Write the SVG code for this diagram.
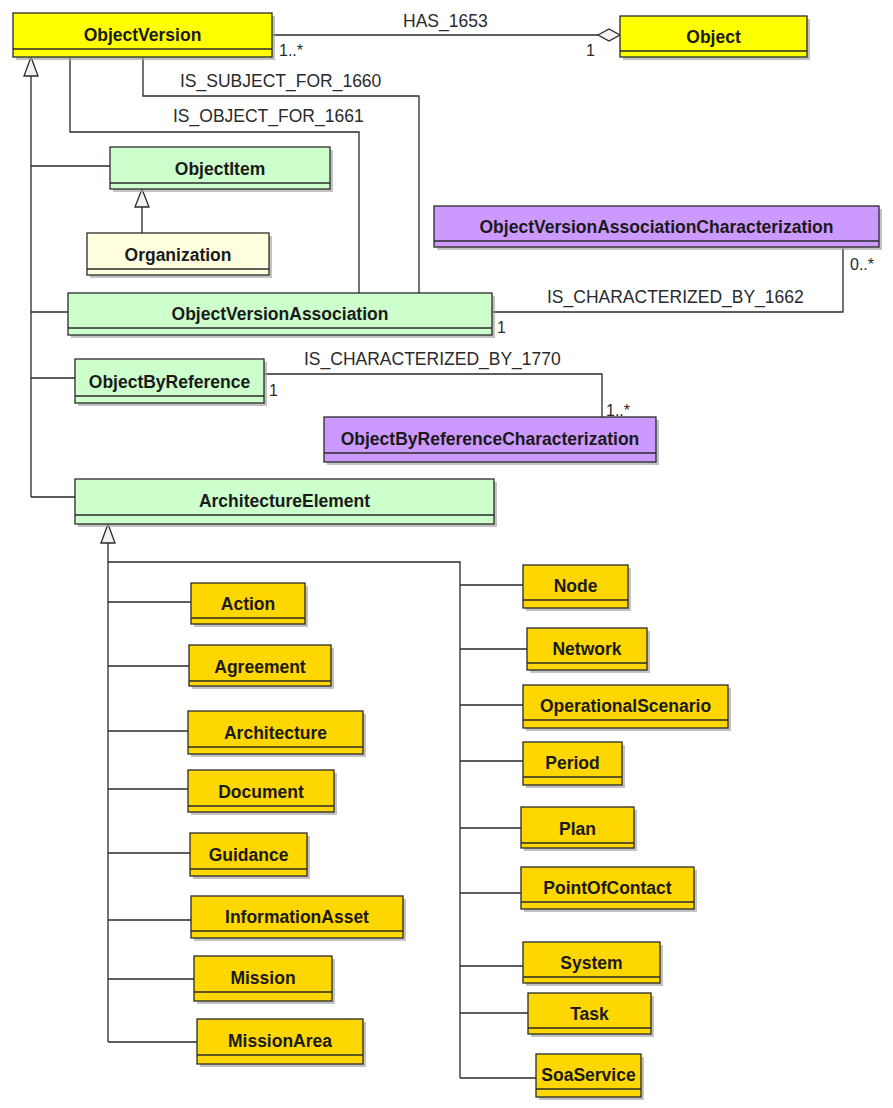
<svg xmlns="http://www.w3.org/2000/svg" width="893" height="1108" viewBox="0 0 893 1108">
<style>
.sh{fill:#a8a8a8;opacity:.7}
.bx{stroke:#2a2a2a;stroke-width:1.3}
.sep{stroke:#2a2a2a;stroke-width:1.3}
.y{fill:#ffff00}
.g{fill:#ffd700}
.gr{fill:#ccffcc}
.cr{fill:#ffffe0}
.pu{fill:#cc99ff}
.nm{font-family:"Liberation Sans",Arial,sans-serif;font-weight:bold;font-size:17.5px;fill:#1a1a1a;text-anchor:middle}
.lb{font-family:"Liberation Sans",Arial,sans-serif;font-size:17.5px;fill:#2a2a2a}
.mu{font-family:"Liberation Sans",Arial,sans-serif;font-size:16px;fill:#2a2a2a}
.ln{fill:none;stroke:#2a2a2a;stroke-width:1.3}
.tri{fill:#f4f2ec;stroke:#2a2a2a;stroke-width:1.3}
</style>
<rect width="893" height="1108" fill="#ffffff"/>
<g id="connectors">
<!-- HAS_1653 -->
<path class="ln" d="M272,35 H598"/>
<path class="tri" d="M598,35 L609,29 L620,35 L609,41 Z"/>
<!-- IS_SUBJECT_FOR_1660 -->
<path class="ln" d="M143,57 V96 H419 V293"/>
<!-- IS_OBJECT_FOR_1661 -->
<path class="ln" d="M70,57 V132 H359 V293"/>
<!-- IS_CHARACTERIZED_BY_1662 -->
<path class="ln" d="M492,312 H843 V247"/>
<!-- IS_CHARACTERIZED_BY_1770 -->
<path class="ln" d="M264,374 H602 V417"/>
<!-- generalization to ObjectVersion -->
<path class="ln" d="M31,76 V497 M31,166 H110 M31,312 H68 M31,378 H75 M31,497 H75"/>
<path class="tri" d="M31,57 L24,76 L38,76 Z"/>
<!-- Organization to ObjectItem -->
<path class="ln" d="M142,207 V233"/>
<path class="tri" d="M142,189 L135,207 L149,207 Z"/>
<!-- generalization to ArchitectureElement -->
<path class="ln" d="M108,543 V1042 M108,562 H460 V1078 M108,602 H191 M108,666 H189 M108,731 H188 M108,789 H188 M108,853 H190 M108,920 H191 M108,979 H194 M108,1042 H197 M460,585 H523 M460,649 H527 M460,705 H523 M460,761 H523 M460,828 H521 M460,893 H521 M460,966 H523 M460,1013 H528 M460,1078 H536"/>
<path class="tri" d="M108,524 L101,543 L115,543 Z"/>
<!-- labels -->
<text class="lb" x="403" y="27">HAS_1653</text>
<text class="mu" x="279" y="56">1..*</text>
<text class="mu" x="586" y="56">1</text>
<text class="lb" x="180" y="87">IS_SUBJECT_FOR_1660</text>
<text class="lb" x="173" y="122">IS_OBJECT_FOR_1661</text>
<text class="lb" x="547" y="303">IS_CHARACTERIZED_BY_1662</text>
<text class="mu" x="850" y="270">0..*</text>
<text class="mu" x="497" y="333">1</text>
<text class="lb" x="304" y="365">IS_CHARACTERIZED_BY_1770</text>
<text class="mu" x="269" y="396">1</text>
<text class="mu" x="606" y="416">1..*</text>
</g>
<g id="ObjectVersion"><rect class="sh" x="16" y="16" width="259" height="44"/><rect class="bx y" x="13" y="13" width="259" height="44"/><line class="sep" x1="13" y1="49" x2="272" y2="49"/><text class="nm" x="142.5" y="40.5">ObjectVersion</text></g>
<g id="Object"><rect class="sh" x="623" y="19" width="187" height="41"/><rect class="bx y" x="620" y="16" width="187" height="41"/><line class="sep" x1="620" y1="51" x2="807" y2="51"/><text class="nm" x="713.5" y="42.5">Object</text></g>
<g id="ObjectItem"><rect class="sh" x="113" y="150" width="220" height="42"/><rect class="bx gr" x="110" y="147" width="220" height="42"/><line class="sep" x1="110" y1="183" x2="330" y2="183"/><text class="nm" x="220" y="174.5">ObjectItem</text></g>
<g id="Organization"><rect class="sh" x="90" y="236" width="182" height="42"/><rect class="bx cr" x="87" y="233" width="182" height="42"/><line class="sep" x1="87" y1="269" x2="269" y2="269"/><text class="nm" x="178" y="260.5">Organization</text></g>
<g id="ObjectVersionAssociation"><rect class="sh" x="71" y="296" width="424" height="42"/><rect class="bx gr" x="68" y="293" width="424" height="42"/><line class="sep" x1="68" y1="328" x2="492" y2="328"/><text class="nm" x="280" y="319.5">ObjectVersionAssociation</text></g>
<g id="ObjectVersionAssociationCharacterization"><rect class="sh" x="437" y="209" width="445" height="41"/><rect class="bx pu" x="434" y="206" width="445" height="41"/><line class="sep" x1="434" y1="241" x2="879" y2="241"/><text class="nm" x="656.5" y="232.5">ObjectVersionAssociationCharacterization</text></g>
<g id="ObjectByReference"><rect class="sh" x="78" y="362" width="189" height="44"/><rect class="bx gr" x="75" y="359" width="189" height="44"/><line class="sep" x1="75" y1="396" x2="264" y2="396"/><text class="nm" x="169.5" y="387.5">ObjectByReference</text></g>
<g id="ObjectByReferenceCharacterization"><rect class="sh" x="327" y="420" width="332" height="45"/><rect class="bx pu" x="324" y="417" width="332" height="45"/><line class="sep" x1="324" y1="453" x2="656" y2="453"/><text class="nm" x="490" y="444.5">ObjectByReferenceCharacterization</text></g>
<g id="ArchitectureElement"><rect class="sh" x="78" y="482" width="419" height="45"/><rect class="bx gr" x="75" y="479" width="419" height="45"/><line class="sep" x1="75" y1="515" x2="494" y2="515"/><text class="nm" x="284.5" y="506.5">ArchitectureElement</text></g>
<g id="Action"><rect class="sh" x="194" y="586" width="114" height="41"/><rect class="bx g" x="191" y="583" width="114" height="41"/><line class="sep" x1="191" y1="618" x2="305" y2="618"/><text class="nm" x="248" y="609.5">Action</text></g>
<g id="Agreement"><rect class="sh" x="192" y="648" width="142" height="41"/><rect class="bx g" x="189" y="645" width="142" height="41"/><line class="sep" x1="189" y1="681" x2="331" y2="681"/><text class="nm" x="260" y="672.5">Agreement</text></g>
<g id="Architecture"><rect class="sh" x="191" y="714" width="175" height="43"/><rect class="bx g" x="188" y="711" width="175" height="43"/><line class="sep" x1="188" y1="747" x2="363" y2="747"/><text class="nm" x="275.5" y="738.5">Architecture</text></g>
<g id="Document"><rect class="sh" x="191" y="773" width="146" height="42"/><rect class="bx g" x="188" y="770" width="146" height="42"/><line class="sep" x1="188" y1="806" x2="334" y2="806"/><text class="nm" x="261" y="797.5">Document</text></g>
<g id="Guidance"><rect class="sh" x="193" y="836" width="117" height="43"/><rect class="bx g" x="190" y="833" width="117" height="43"/><line class="sep" x1="190" y1="869" x2="307" y2="869"/><text class="nm" x="248.5" y="860.5">Guidance</text></g>
<g id="InformationAsset"><rect class="sh" x="194" y="899" width="212" height="42"/><rect class="bx g" x="191" y="896" width="212" height="42"/><line class="sep" x1="191" y1="931" x2="403" y2="931"/><text class="nm" x="297" y="922.5">InformationAsset</text></g>
<g id="Mission"><rect class="sh" x="197" y="959" width="138" height="45"/><rect class="bx g" x="194" y="956" width="138" height="45"/><line class="sep" x1="194" y1="992" x2="332" y2="992"/><text class="nm" x="263" y="983.5">Mission</text></g>
<g id="MissionArea"><rect class="sh" x="200" y="1022" width="166" height="45"/><rect class="bx g" x="197" y="1019" width="166" height="45"/><line class="sep" x1="197" y1="1055" x2="363" y2="1055"/><text class="nm" x="280" y="1046.5">MissionArea</text></g>
<g id="Node"><rect class="sh" x="526" y="568" width="105" height="43"/><rect class="bx g" x="523" y="565" width="105" height="43"/><line class="sep" x1="523" y1="600" x2="628" y2="600"/><text class="nm" x="575.5" y="591.5">Node</text></g>
<g id="Network"><rect class="sh" x="530" y="631" width="120" height="42"/><rect class="bx g" x="527" y="628" width="120" height="42"/><line class="sep" x1="527" y1="663" x2="647" y2="663"/><text class="nm" x="587" y="654.5">Network</text></g>
<g id="OperationalScenario"><rect class="sh" x="526" y="688" width="205" height="43"/><rect class="bx g" x="523" y="685" width="205" height="43"/><line class="sep" x1="523" y1="720" x2="728" y2="720"/><text class="nm" x="625.5" y="711.5">OperationalScenario</text></g>
<g id="Period"><rect class="sh" x="526" y="745" width="99" height="43"/><rect class="bx g" x="523" y="742" width="99" height="43"/><line class="sep" x1="523" y1="777" x2="622" y2="777"/><text class="nm" x="572.5" y="768.5">Period</text></g>
<g id="Plan"><rect class="sh" x="524" y="810" width="113" height="41"/><rect class="bx g" x="521" y="807" width="113" height="41"/><line class="sep" x1="521" y1="843" x2="634" y2="843"/><text class="nm" x="577.5" y="834.5">Plan</text></g>
<g id="PointOfContact"><rect class="sh" x="524" y="870" width="173" height="42"/><rect class="bx g" x="521" y="867" width="173" height="42"/><line class="sep" x1="521" y1="902" x2="694" y2="902"/><text class="nm" x="607.5" y="893.5">PointOfContact</text></g>
<g id="System"><rect class="sh" x="526" y="945" width="137" height="41"/><rect class="bx g" x="523" y="942" width="137" height="41"/><line class="sep" x1="523" y1="977" x2="660" y2="977"/><text class="nm" x="591.5" y="968.5">System</text></g>
<g id="Task"><rect class="sh" x="531" y="996" width="123" height="41"/><rect class="bx g" x="528" y="993" width="123" height="41"/><line class="sep" x1="528" y1="1028" x2="651" y2="1028"/><text class="nm" x="589.5" y="1019.5">Task</text></g>
<g id="SoaService"><rect class="sh" x="539" y="1057" width="105" height="43"/><rect class="bx g" x="536" y="1054" width="105" height="43"/><line class="sep" x1="536" y1="1089" x2="641" y2="1089"/><text class="nm" x="588.5" y="1080.5">SoaService</text></g>
</svg>
